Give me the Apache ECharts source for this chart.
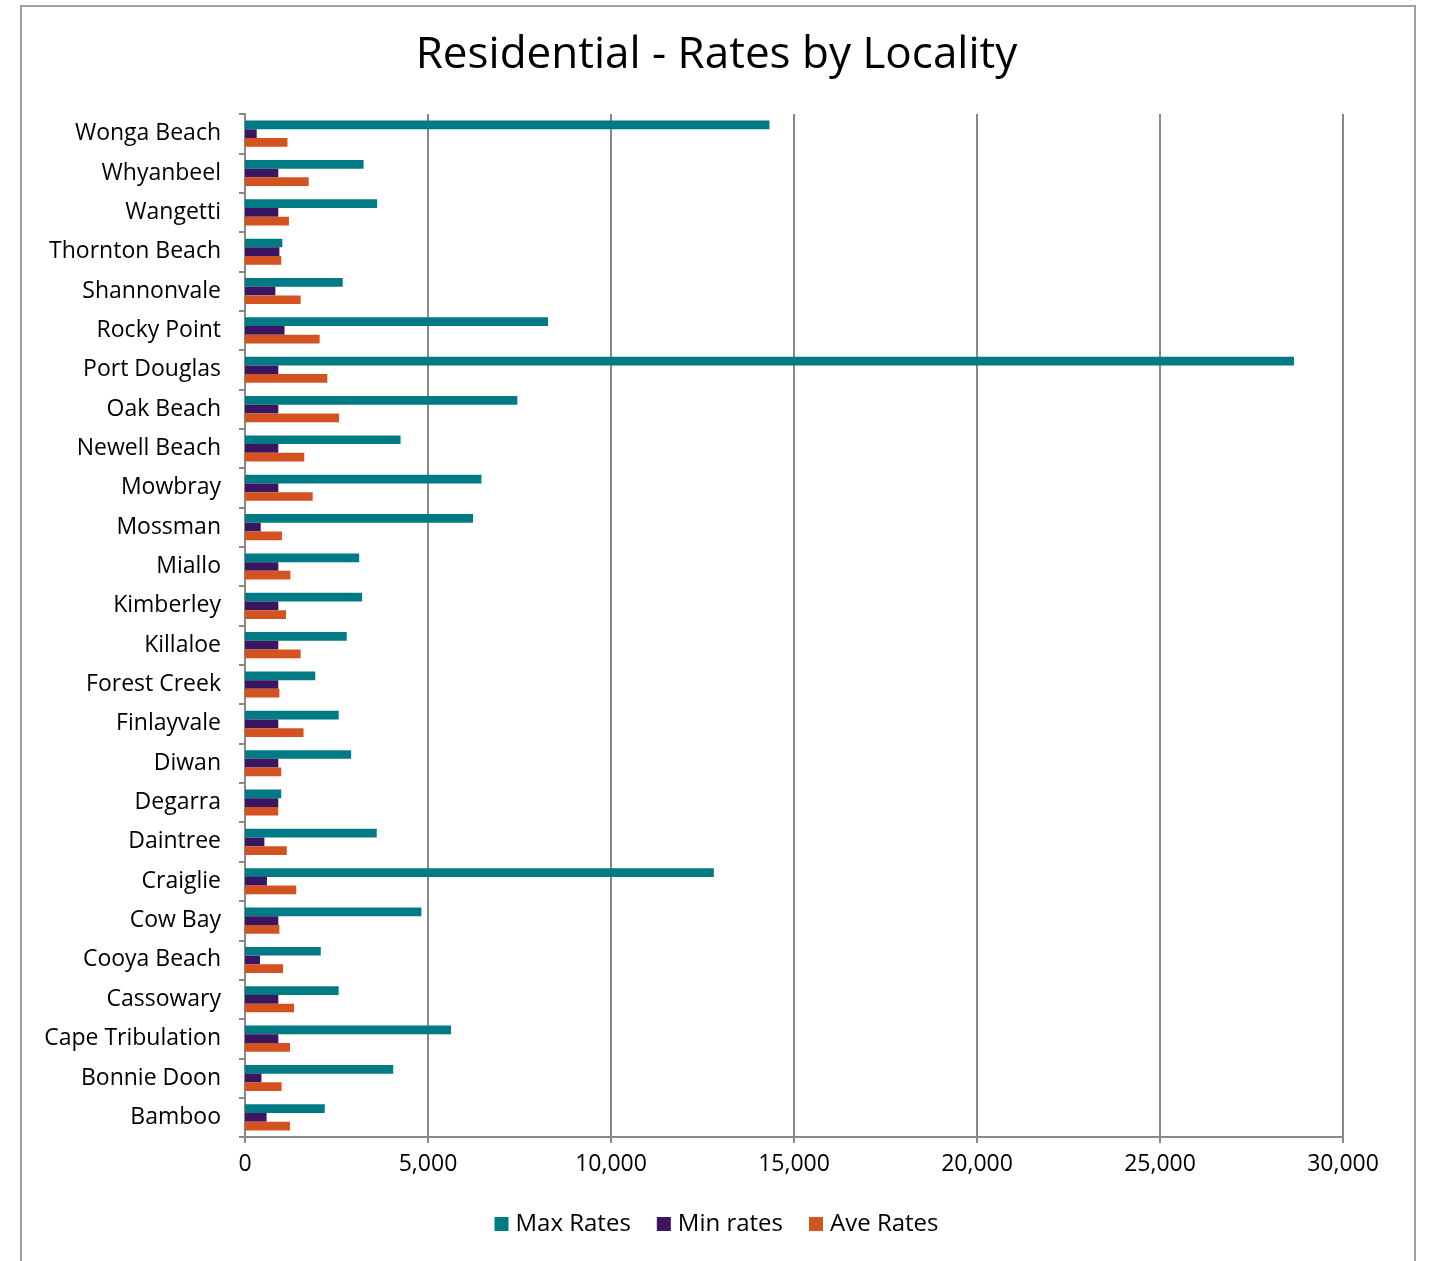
<!DOCTYPE html>
<html>
<head>
<meta charset="utf-8">
<script src="https://cdn.jsdelivr.net/npm/echarts@6/dist/echarts.min.js"></script>
<style>
html,body{margin:0;padding:0;background:#fff;}
#c{width:1433px;height:1261px;}
</style>
</head>
<body>
<div id="c"></div>
<script>
// Categories listed bottom to top
var categories = ["Bamboo","Bonnie Doon","Cape Tribulation","Cassowary","Cooya Beach","Cow Bay","Craiglie","Daintree","Degarra","Diwan","Finlayvale","Forest Creek","Killaloe","Kimberley","Miallo","Mossman","Mowbray","Newell Beach","Oak Beach","Port Douglas","Rocky Point","Shannonvale","Thornton Beach","Wangetti","Whyanbeel","Wonga Beach"];
var maxRates = [2180,4050,5630,2560,2070,4820,12810,3600,990,2900,2560,1920,2780,3200,3120,6230,6460,4250,7440,28660,8280,2670,1020,3610,3240,14330];
var minRates = [590,450,910,910,410,910,600,530,910,910,910,910,910,910,910,430,910,910,910,910,1080,830,940,910,910,320];
var aveRates = [1230,1000,1230,1340,1040,940,1400,1140,910,990,1600,940,1520,1120,1240,1010,1850,1620,2570,2250,2040,1520,990,1200,1740,1160];
var seriesNames = ["Max Rates","Min rates","Ave Rates"];
var colors = ["#007B85","#3A1560","#D35220"];

var chart = echarts.init(document.getElementById('c'), null, {renderer:'canvas'});
var font = "'Open Sans', 'Liberation Sans', Arial, sans-serif";
chart.setOption({
  animation:false,
  backgroundColor:'#fff',
  color:colors,
  textStyle:{fontFamily:font},
  title:{text:'Residential - Rates by Locality', left:'center', top:28,
    textStyle:{fontSize:44, fontWeight:'normal', color:'#000', fontFamily:font}},
  graphic:[{type:'rect', shape:{x:21,y:6,width:1394,height:1300}, style:{fill:null, stroke:'#a0a0a0', lineWidth:2}, silent:true}],
  legend:{data:seriesNames, bottom:20, left:'center', itemWidth:14, itemHeight:14, itemGap:26, icon:'rect',
    textStyle:{fontSize:24, color:'#000', fontFamily:font, padding:[0,0,0,2]}},
  grid:{left:245, right:90, top:114, bottom:124, containLabel:false},
  xAxis:{type:'value', min:0, max:30000, interval:5000,
    axisLine:{show:true, lineStyle:{color:'#888', width:2}},
    axisTick:{show:true, length:6, lineStyle:{color:'#888', width:2}},
    axisLabel:{fontSize:23, color:'#000', margin:16, fontFamily:font,
      formatter:function(v){return v.toLocaleString('en-US');}},
    splitLine:{show:true, lineStyle:{color:'#888', width:2}}},
  yAxis:{type:'category', data:categories,
    axisLine:{show:true, lineStyle:{color:'#888', width:2}},
    axisTick:{show:true, length:6, lineStyle:{color:'#888', width:2}},
    axisLabel:{fontSize:23, color:'#000', margin:24, fontFamily:font}},
  series:[
    {name:seriesNames[0], type:'bar', data:maxRates, barWidth:8.7, barGap:'0%', itemStyle:{color:colors[0]}},
    {name:seriesNames[1], type:'bar', data:minRates, barWidth:8.7, barGap:'0%', itemStyle:{color:colors[1]}},
    {name:seriesNames[2], type:'bar', data:aveRates, barWidth:8.7, barGap:'0%', itemStyle:{color:colors[2]}}
  ]
});
</script>
</body>
</html>
